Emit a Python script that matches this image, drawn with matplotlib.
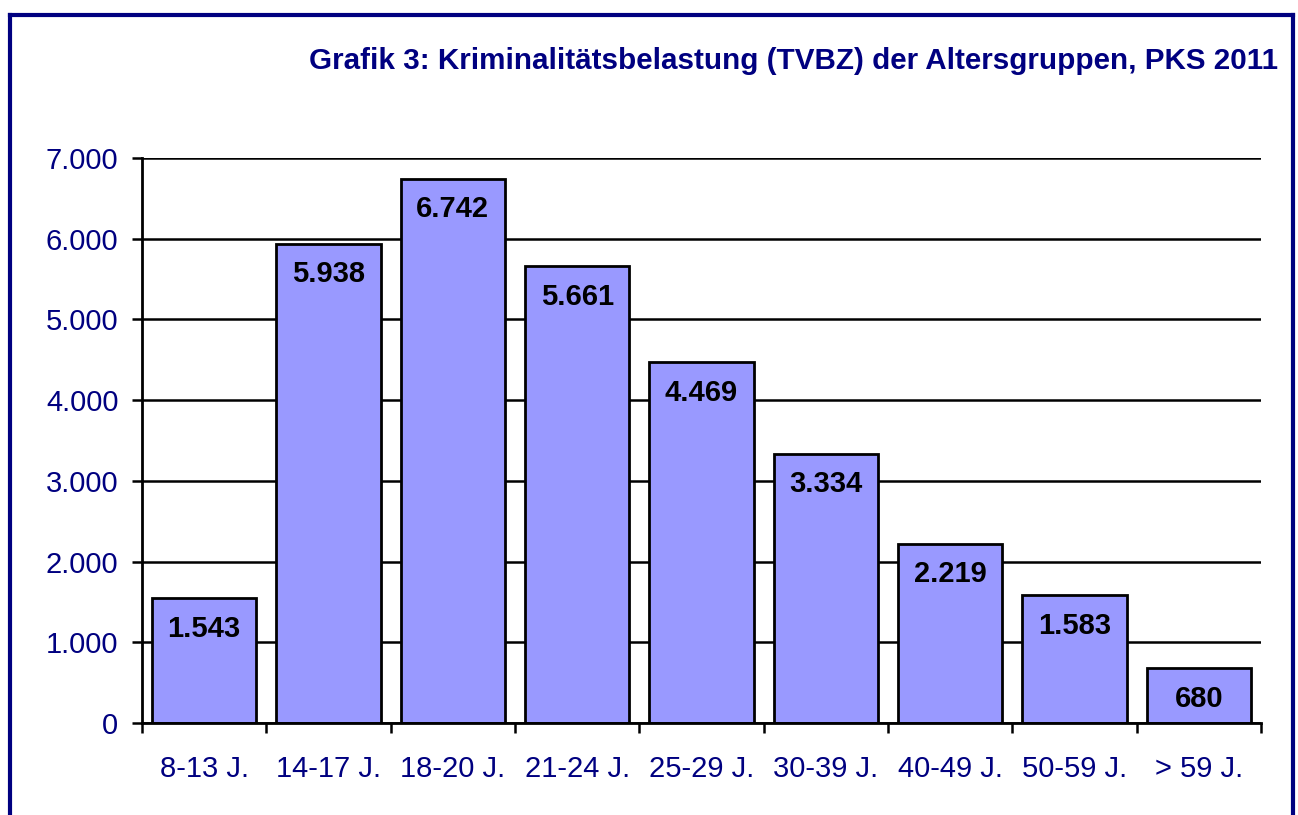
import numpy as np
import matplotlib
matplotlib.use("Agg")
import matplotlib.pyplot as plt
from matplotlib.lines import Line2D

categories = ["8-13 J.", "14-17 J.", "18-20 J.", "21-24 J.", "25-29 J.",
              "30-39 J.", "40-49 J.", "50-59 J.", "> 59 J."]
values = [1543, 5938, 6742, 5661, 4469, 3334, 2219, 1583, 680]
yticks = [0, 1000, 2000, 3000, 4000, 5000, 6000, 7000]
title = "Grafik 3: Kriminalitätsbelastung (TVBZ) der Altersgruppen, PKS 2011"

NAVY = "#000080"
plt.rcParams['font.family'] = ['Liberation Sans', 'DejaVu Sans']

W, H = 1298, 815
fig = plt.figure(figsize=(W / 100, H / 100), dpi=100)
ax = fig.add_axes([142 / W, 1 - 723 / H, (1261 - 142) / W, (723 - 158) / H])

def fmt(v):
    return f"{v:,}".replace(",", ".")

x = np.arange(len(categories))
bars = ax.bar(x, values, width=0.84, color="#9999FF", edgecolor="black",
              linewidth=2.0, zorder=3)
for xi, v in zip(x, values):
    ax.annotate(fmt(v), (xi, v), xytext=(0, -22), textcoords="offset points",
                ha="center", va="center", fontsize=21, fontweight="bold",
                color="black", zorder=4)

ax.set_xlim(-0.5, len(categories) - 0.5)
ax.set_ylim(0, 7000)
ax.set_yticks(yticks)
ax.set_yticklabels([fmt(t) for t in yticks], fontsize=21, color=NAVY)
ax.set_xticks(x)
ax.set_xticklabels(categories, fontsize=21, color=NAVY)
ax.set_xticks(np.arange(-0.5, len(categories), 1), minor=True)
ax.tick_params(axis="x", which="major", length=0, pad=23)
ax.tick_params(axis="x", which="minor", length=7, width=1.8, direction="out")
ax.tick_params(axis="y", which="major", length=7, width=1.8, pad=10)
ax.grid(axis="y", color="black", linewidth=1.8, zorder=0)
ax.set_axisbelow(True)
for s in ["top", "right"]:
    ax.spines[s].set_visible(False)
for s in ["left", "bottom"]:
    ax.spines[s].set_linewidth(2.0)
    ax.spines[s].set_zorder(5)

fig.text(1278 / W, 1 - 61 / H, title, ha="right", va="center",
         fontsize=21.3, fontweight="bold", color=NAVY)

# border
lw = 3
xl, xr, yt = 9.5 / W, 1292.5 / W, 1 - 14.5 / H
fig.add_artist(Line2D([xl, xl], [-0.01, yt], color=NAVY, lw=lw, transform=fig.transFigure))
fig.add_artist(Line2D([xr, xr], [-0.01, yt], color=NAVY, lw=lw, transform=fig.transFigure))
fig.add_artist(Line2D([xl, xr], [yt, yt], color=NAVY, lw=lw, transform=fig.transFigure,
                      solid_capstyle="projecting"))

fig.savefig("out.png", dpi=100)
